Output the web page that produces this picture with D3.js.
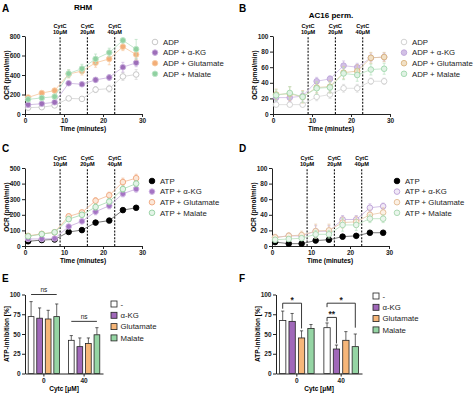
<!DOCTYPE html>
<html>
<head>
<meta charset="utf-8">
<script src="https://cdn.jsdelivr.net/npm/d3@7"></script>
<style>
  body { margin: 0; background: #fff; }
  svg { font-family: "Liberation Sans", Arial, sans-serif; }
  .axis text { font-weight: bold; font-size: 6.5px; fill: #222; }
  .axis path, .axis line { stroke: #222; stroke-width: 1; }
</style>
</head>
<body>
<svg></svg>
<script>
// ---- data ----
const times = [0.8, 4.3, 7.6, 11.2, 14.6, 18.1, 21.6, 25.1, 28.5];
const cytcTimes = [9, 16, 23];
const cytcLabels = ["10μM", "20μM", "40μM"];
const timeTicks = [0, 10, 20, 30];

const adpNames = ["ADP", "ADP + α-KG", "ADP + Glutamate", "ADP + Malate"];
const atpNames = ["ATP", "ATP + α-KG", "ATP + Glutamate", "ATP + Malate"];

// A: RHM, ADP
const rhmAdp = [
  [65, 70, 88, 160, 155, 250, 260, 385, 405],
  [95, 105, 120, 315, 305, 350, 375, 480, 525],
  [170, 215, 240, 410, 440, 525, 565, 690, 610],
  [150, 165, 178, 415, 465, 565, 630, 755, 665]
];
const rhmAdpErr = [
  [15, 10, 15, 15, 20, 30, 35, 40, 50],
  [20, 20, 20, 20, 20, 25, 30, 50, 40],
  [20, 15, 20, 40, 40, 45, 60, 40, 55],
  [20, 15, 15, 40, 45, 50, 45, 20, 100]
];
// B: AC16 perm., ADP
const acAdp = [
  [12, 12, 12, 22, 25, 33, 33, 42, 42],
  [21, 21, 23, 42, 45, 62, 60, 72, 73],
  [25, 26, 22, 34, 35, 53, 55, 72, 73],
  [24, 27, 22, 33, 34, 52, 50, 57, 58]
];
const acAdpErr = [
  [2, 2, 2, 5, 5, 5, 5, 4, 4],
  [5, 5, 5, 5, 4, 6, 5, 5, 5],
  [7, 9, 8, 7, 8, 8, 8, 7, 6],
  [7, 8, 7, 8, 7, 8, 8, 7, 7]
];
// C: RHM, ATP
const rhmAtp = [
  [30, 38, 42, 90, 102, 150, 163, 230, 245],
  [45, 45, 48, 125, 158, 220, 258, 335, 365],
  [65, 78, 88, 190, 215, 290, 325, 410, 435],
  [62, 76, 88, 172, 200, 250, 285, 365, 400]
];
const rhmAtpErr = [
  [5, 5, 5, 8, 8, 8, 8, 8, 8],
  [8, 8, 8, 12, 15, 20, 20, 20, 20],
  [10, 8, 8, 15, 15, 20, 20, 25, 25],
  [10, 8, 8, 15, 15, 20, 20, 20, 20]
];
// D: AC16 perm., ATP
const acAtp = [
  [5, 3, 3, 7, 8, 12, 13, 17, 17],
  [11, 13, 13, 19, 19, 34, 34, 49, 51],
  [11, 13, 14, 19, 20, 30, 31, 40, 43],
  [8, 9, 10, 15, 15, 27, 27, 35, 35]
];
const acAtpErr = [
  [1, 1, 1, 1, 1, 1, 1, 1, 1],
  [3, 3, 4, 7, 7, 5, 5, 5, 4],
  [4, 4, 5, 9, 8, 7, 7, 6, 6],
  [3, 3, 3, 5, 5, 8, 7, 5, 5]
];

// E/F: ATP inhibition
const cytcGroups = ["0", "40"];
const barNames = ["-", "α-KG", "Glutamate", "Malate"];
const rhmInhib = [[72, 70, 69, 72], [42, 34, 38, 49]];
const rhmInhibErr = [[19, 13, 11, 16], [6, 11, 7, 9]];
const acInhib = [[67, 66, 45, 57], [58, 31, 42, 34]];
const acInhibErr = [[12, 10, 9, 5], [6, 5, 11, 16]];

// ---- drawing ----
const svg = d3.select("svg").attr("width", 474).attr("height", 396);

function panelLetter(txt, x, y) {
  svg.append("text").attr("x", x).attr("y", y)
    .attr("font-size", 10).attr("font-weight", "bold").text(txt);
}

function yTitle(txt, x, cy) {
  svg.append("text")
    .attr("transform", `translate(${x},${cy}) rotate(-90)`)
    .attr("text-anchor", "middle").attr("font-size", 6.5).attr("font-weight", "bold")
    .text(txt);
}

function linePanel(p) {
  const x = d3.scaleLinear().domain([0, 30]).range([p.x0, p.x0 + 117]);
  const y = d3.scaleLinear().domain([0, p.yMax]).range([p.y0, p.y0 - 78]);

  svg.append("g").attr("class", "axis")
    .attr("transform", `translate(0,${p.y0})`)
    .call(d3.axisBottom(x).tickValues(timeTicks).tickSize(3).tickSizeOuter(0).tickPadding(1.5));
  svg.append("g").attr("class", "axis")
    .attr("transform", `translate(${p.x0},0)`)
    .call(d3.axisLeft(y).ticks(4).tickSize(3).tickSizeOuter(0).tickPadding(1.5));

  svg.append("text").attr("x", p.x0 + 58).attr("y", p.y0 + 16.5)
    .attr("text-anchor", "middle").attr("font-size", 6.5).attr("font-weight", "bold")
    .text("Time (minutes)");
  yTitle("OCR (pmol/min)", p.x0 - 16.5, p.y0 - 39);

  // CytC additions
  cytcTimes.forEach((t, i) => {
    svg.append("line")
      .attr("x1", x(t)).attr("x2", x(t))
      .attr("y1", y(0)).attr("y2", y(p.yMax) + 1)
      .attr("stroke", "#111").attr("stroke-width", 1.1)
      .attr("stroke-dasharray", "2,1.4");
    const lab = svg.append("text").attr("text-anchor", "middle")
      .attr("font-size", 5.6).attr("font-weight", "bold");
    lab.append("tspan").attr("x", x(t)).attr("y", y(p.yMax) - 8.5).text("CytC");
    lab.append("tspan").attr("x", x(t)).attr("y", y(p.yMax) - 2.3).text(cytcLabels[i]);
  });

  const line = d3.line().x((d, i) => x(times[i])).y(d => y(d));
  // draw back to front
  [0, 1, 2, 3].forEach(s => {
    const st = p.styles[s];
    const g = svg.append("g");
    g.append("path").datum(p.values[s])
      .attr("d", line).attr("fill", "none")
      .attr("stroke", st.line).attr("stroke-width", 0.8);
    const eb = g.selectAll(".eb").data(p.values[s]).join("g");
    eb.append("line")
      .attr("x1", (d, i) => x(times[i])).attr("x2", (d, i) => x(times[i]))
      .attr("y1", (d, i) => y(d - p.errs[s][i])).attr("y2", (d, i) => y(d + p.errs[s][i]))
      .attr("stroke", st.line).attr("stroke-width", 0.7);
    [-1, 1].forEach(k => {
      eb.append("line")
        .attr("x1", (d, i) => x(times[i]) - 1.5).attr("x2", (d, i) => x(times[i]) + 1.5)
        .attr("y1", (d, i) => y(d + k * p.errs[s][i])).attr("y2", (d, i) => y(d + k * p.errs[s][i]))
        .attr("stroke", st.line).attr("stroke-width", 0.7);
    });
    g.selectAll("circle").data(p.values[s]).join("circle")
      .attr("cx", (d, i) => x(times[i])).attr("cy", d => y(d)).attr("r", 2.8)
      .attr("fill", st.fill).attr("stroke", st.stroke).attr("stroke-width", 0.9);
  });

  // legend
  p.names.forEach((n, i) => {
    const st = p.styles[i];
    const ly = p.legY + i * 10.6;
    svg.append("circle").attr("cx", p.legX).attr("cy", ly).attr("r", 2.8)
      .attr("fill", st.fill).attr("stroke", st.stroke).attr("stroke-width", 0.9);
    svg.append("text").attr("x", p.legX + 8).attr("y", ly).attr("dy", "0.35em")
      .attr("font-size", 7.8).attr("fill", "#222").text(n);
  });
}

function barPanel(p) {
  const x0 = d3.scaleBand().domain(cytcGroups).range([p.x0, p.x0 + p.w])
    .paddingInner(0.22).paddingOuter(0.08);
  const x1 = d3.scaleBand().domain(d3.range(4)).range([0, x0.bandwidth()]).paddingInner(0.33);
  const y = d3.scaleLinear().domain([0, 100]).range([p.y0, p.y0 - 79]);

  svg.append("g").attr("class", "axis")
    .attr("transform", `translate(0,${p.y0})`)
    .call(d3.axisBottom(x0).tickSize(3).tickSizeOuter(0).tickPadding(1.5));
  svg.append("g").attr("class", "axis")
    .attr("transform", `translate(${p.x0},0)`)
    .call(d3.axisLeft(y).tickValues([0, 25, 50, 75, 100]).tickSize(3).tickSizeOuter(0).tickPadding(1.5));

  svg.append("text").attr("x", p.x0 + p.w / 2).attr("y", p.y0 + 17.5)
    .attr("text-anchor", "middle").attr("font-size", 6.5).attr("font-weight", "bold")
    .text("Cytc [μM]");
  yTitle("ATP-inhibition [%]", p.x0 - 16.5, p.y0 - 39.5);

  const cx = (gi, bi) => x0(cytcGroups[gi]) + x1(bi) + x1.bandwidth() / 2;

  cytcGroups.forEach((grp, gi) => {
    p.values[gi].forEach((v, bi) => {
      const xc = cx(gi, bi);
      const top = y(v + p.errs[gi][bi]);
      svg.append("line").attr("x1", xc).attr("x2", xc).attr("y1", y(v)).attr("y2", top)
        .attr("stroke", "#222").attr("stroke-width", 0.7);
      svg.append("line").attr("x1", xc - 1.6).attr("x2", xc + 1.6).attr("y1", top).attr("y2", top)
        .attr("stroke", "#222").attr("stroke-width", 0.7);
      svg.append("rect")
        .attr("x", x0(grp) + x1(bi)).attr("y", y(v))
        .attr("width", x1.bandwidth()).attr("height", y(0) - y(v))
        .attr("fill", barColors[bi]).attr("stroke", "#222").attr("stroke-width", 0.8);
    });
  });

  barNames.forEach((n, i) => {
    const ly = p.legY + i * 11.3;
    svg.append("rect").attr("x", p.legX).attr("y", ly - 3).attr("width", 6).attr("height", 6)
      .attr("fill", barColors[i]).attr("stroke", "#222").attr("stroke-width", 0.8);
    svg.append("text").attr("x", p.legX + 9.5).attr("y", ly).attr("dy", "0.35em")
      .attr("font-size", 7.8).attr("fill", "#222").text(n);
  });

  p.marks.forEach(m => {
    const xa = cx(m.g, m.a), xb = cx(m.g, m.b), yt = y(m.top);
    if (m.legs) {
      svg.append("path")
        .attr("d", `M${xa},${y(m.la)}V${yt}H${xb}V${y(m.lb)}`)
        .attr("fill", "none").attr("stroke", "#222").attr("stroke-width", 0.9);
    } else {
      svg.append("line").attr("x1", xa).attr("x2", xb).attr("y1", yt).attr("y2", yt)
        .attr("stroke", "#222").attr("stroke-width", 0.9);
    }
    svg.append("text").attr("x", (xa + xb) / 2).attr("y", yt - (m.legs ? 0.5 : 2.5))
      .attr("text-anchor", "middle")
      .attr("font-size", m.legs ? 8.5 : 6.5).attr("font-weight", m.legs ? "bold" : "normal")
      .attr("fill", "#222").text(m.txt);
  });
}

const barColors = ["#ffffff", "#a068b9", "#f6b679", "#95d5a4"];

// A
panelLetter("A", 2, 12);
svg.append("text").attr("x", 83).attr("y", 10).attr("text-anchor", "middle")
  .attr("font-size", 8).attr("font-weight", "bold").text("RHM");
linePanel({
  x0: 25, y0: 114, yMax: 800, values: rhmAdp, errs: rhmAdpErr, names: adpNames,
  legX: 155, legY: 42,
  styles: [
    { fill: "#fff", stroke: "#c2c2c2", line: "#d2d2d2" },
    { fill: "#9d6eb9", stroke: "#c8b0dc", line: "#c8b0dc" },
    { fill: "#f3ae78", stroke: "#f8cfa8", line: "#f6c89e" },
    { fill: "#90d1a1", stroke: "#c0e5ca", line: "#b5e0c0" }
  ]
});

// B
panelLetter("B", 239, 12);
svg.append("text").attr("x", 331).attr("y", 18).attr("text-anchor", "middle")
  .attr("font-size", 8).attr("font-weight", "bold").text("AC16 perm.");
linePanel({
  x0: 273, y0: 114, yMax: 100, values: acAdp, errs: acAdpErr, names: adpNames,
  legX: 404, legY: 42,
  styles: [
    { fill: "#fff", stroke: "#cdcdcd", line: "#d8d8d8" },
    { fill: "#d2c0e6", stroke: "#bea6da", line: "#cdb9e2" },
    { fill: "#f1e0c6", stroke: "#d9b27c", line: "#e2c59c" },
    { fill: "#e0f2e4", stroke: "#9fd7ab", line: "#b8e2c0" }
  ]
});

// C
panelLetter("C", 2, 152);
linePanel({
  x0: 25, y0: 246, yMax: 500, values: rhmAtp, errs: rhmAtpErr, names: atpNames,
  legX: 152, legY: 181,
  styles: [
    { fill: "#000", stroke: "#000", line: "#555" },
    { fill: "#a574c4", stroke: "#d0b5e3", line: "#c6a9dc" },
    { fill: "#fbe7d8", stroke: "#efa57b", line: "#f1b792" },
    { fill: "#e4f4e8", stroke: "#93cf9f", line: "#a6d8b0" }
  ]
});

// D
panelLetter("D", 239, 152);
linePanel({
  x0: 272, y0: 246, yMax: 100, values: acAtp, errs: acAtpErr, names: atpNames,
  legX: 397, legY: 181,
  styles: [
    { fill: "#000", stroke: "#000", line: "#555" },
    { fill: "#f1e9f7", stroke: "#bb9fd6", line: "#c7b0df" },
    { fill: "#fcf1e5", stroke: "#e2ba92", line: "#e8c9a8" },
    { fill: "#ebf6ed", stroke: "#a5d6ad", line: "#b7dfbd" }
  ]
});

// E
panelLetter("E", 2, 282);
barPanel({
  x0: 25, y0: 373.5, w: 78, values: rhmInhib, errs: rhmInhibErr,
  legX: 111, legY: 304,
  marks: [
    { g: 0, a: 0, b: 3, top: 100, txt: "ns", legs: false },
    { g: 1, a: 0, b: 3, top: 66, txt: "ns", legs: false }
  ]
});

// F
panelLetter("F", 239, 282);
barPanel({
  x0: 276, y0: 373.5, w: 86, values: acInhib, errs: acInhibErr,
  legX: 373, legY: 296,
  marks: [
    { g: 0, a: 0, b: 2, top: 89, la: 82, lb: 57, txt: "*", legs: true },
    { g: 1, a: 0, b: 3, top: 89, la: 84, lb: 58, txt: "*", legs: true },
    { g: 1, a: 0, b: 1, top: 71, la: 66, lb: 38, txt: "**", legs: true }
  ]
});
</script>
</body>
</html>
